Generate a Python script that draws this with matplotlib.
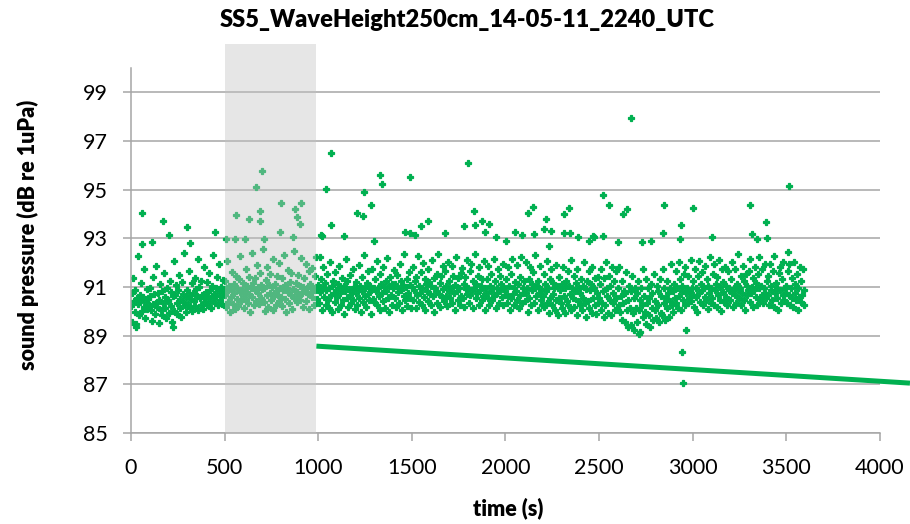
import matplotlib.pyplot as plt
import numpy as np
from matplotlib.patches import Rectangle

plt.rcParams["font.family"] = ["Lato", "DejaVu Sans"]

TITLE = "SS5_WaveHeight250cm_14-05-11_2240_UTC"
GREEN = "#00b050"
GRID = "#a6a6a6"
SAMPLE_STEP = 4  # seconds between plotted samples

# sound pressure (dB re 1uPa), one block per 500 s
seg_0000 = [
    90.21, 90.74, 89.58, 91.36, 90.42, 89.97, 90.88, 89.47, 90.55, 92.28, 90.31, 89.83, 90.66, 90.47, 91.18, 90.02, 90.59, 90.16, 91.72, 89.71, 90.38, 90.93, 90.11, 90.52, 90.27,
    90.63, 90.95, 90.04, 89.62, 90.29, 91.43, 90.71, 89.91, 90.36, 91.87, 90.19, 90.77, 89.52, 90.48, 91.14, 90.07, 90.83, 89.86, 90.33, 91.58, 90.57, 90.12, 89.74, 90.97, 90.41,
    90.46, 89.94, 91.26, 90.23, 90.79, 89.55, 90.61, 92.06, 90.01, 90.68, 91.07, 89.88, 90.34, 90.86, 91.49, 90.14, 90.51, 89.78, 91.21, 90.39, 90.72, 92.41, 90.24, 89.96, 90.58,
    90.87, 90.32, 90.69, 91.64, 90.13, 90.49, 91.17, 90.03, 90.76, 90.44, 91.38, 90.22, 90.91, 90.62, 92.17, 90.06, 90.98, 90.53, 90.28, 91.26, 90.67, 90.09, 91.81, 90.56, 90.37,
    90.81, 91.19, 90.26, 90.64, 91.57, 90.43, 90.89, 90.15, 91.04, 90.54, 92.33, 90.73, 90.35, 90.96, 90.61, 91.42, 90.27, 90.84, 91.93, 90.45, 91.02, 90.66, 90.31, 91.28, 90.92,
]
seg_0500 = [
    90.68, 91.24, 90.17, 92.08, 90.86, 90.39, 91.06, 89.97, 90.93, 90.58, 91.63, 90.29, 91.12, 90.77, 90.08, 91.47, 90.52, 90.94, 90.21, 91.33, 90.79, 92.27, 90.41, 90.88, 90.63,
    91.16, 90.12, 90.85, 91.74, 90.49, 91.03, 90.33, 91.41, 90.71, 89.96, 90.97, 92.38, 90.57, 91.18, 90.24, 90.87, 91.36, 90.44, 91.92, 90.76, 90.99, 90.31, 91.59, 90.53, 91.07,
    90.91, 92.55, 90.37, 90.96, 90.02, 91.27, 90.66, 91.83, 90.19, 91.08, 90.74, 91.52, 90.47, 90.98, 90.06, 92.14, 90.61, 91.13, 90.83, 90.28, 91.44, 90.69, 91.97, 90.42, 90.95,
    90.59, 91.35, 90.23, 90.89, 92.31, 90.51, 91.09, 89.98, 90.97, 90.78, 91.71, 90.34, 91.22, 90.67, 91.56, 90.11, 90.92, 90.56, 92.46, 90.84, 91.15, 90.38, 90.81, 91.48, 90.62,
    91.05, 90.48, 92.19, 90.77, 90.99, 90.18, 91.39, 90.86, 91.94, 90.43, 90.95, 90.72, 91.66, 90.09, 91.14, 90.81, 91.78, 90.57, 90.97, 90.26, 91.45, 90.88, 92.23, 90.49, 90.93,
]
seg_1000 = [
    91.08, 90.36, 92.24, 90.79, 91.31, 90.07, 90.94, 91.82, 90.58, 91.16, 90.27, 90.86, 91.54, 90.48, 90.97, 90.14, 92.02, 90.69, 91.05, 89.98, 91.26, 90.76, 91.63, 90.39, 90.88,
    90.57, 91.13, 90.09, 91.86, 90.74, 90.96, 90.25, 91.37, 90.46, 91.04, 89.87, 90.83, 92.15, 90.55, 91.24, 90.18, 90.93, 90.66, 91.51, 90.35, 90.87, 91.72, 90.47, 91.02, 90.08,
    90.77, 91.22, 90.28, 90.95, 91.91, 90.54, 91.06, 89.99, 91.43, 90.84, 90.37, 92.33, 90.64, 90.96, 90.16, 91.17, 90.73, 91.64, 90.45, 91.03, 89.91, 90.86, 91.76, 90.52, 90.97,
    90.38, 91.34, 90.85, 92.07, 90.26, 90.94, 90.63, 91.53, 90.06, 91.12, 90.75, 91.84, 90.44, 90.99, 90.13, 91.25, 90.82, 92.21, 90.56, 91.05, 89.96, 91.42, 90.68, 91.11, 90.24,
    90.97, 91.69, 90.54, 91.14, 90.17, 91.49, 90.78, 90.95, 90.33, 91.96, 90.86, 91.23, 90.04, 91.07, 90.65, 92.36, 90.46, 90.98, 90.22, 91.32, 90.74, 91.61, 90.53, 91.09, 90.15,
]
seg_1500 = [
    90.98, 90.46, 91.83, 90.87, 91.24, 90.15, 91.41, 90.66, 92.26, 90.37, 91.03, 90.76, 91.62, 90.24, 90.94, 91.97, 90.57, 91.33, 90.06, 91.12, 90.85, 91.74, 90.44, 91.21, 90.73,
    91.06, 90.27, 92.13, 90.64, 91.36, 89.98, 90.95, 90.82, 91.53, 90.35, 92.37, 90.71, 91.15, 90.16, 91.44, 90.58, 91.86, 90.92, 90.43, 91.67, 90.65, 91.04, 90.23, 92.04, 90.84,
    91.23, 90.55, 90.96, 91.88, 90.36, 91.46, 90.74, 91.08, 90.04, 92.22, 90.83, 91.35, 90.47, 90.97, 90.26, 91.56, 90.63, 91.77, 90.54, 91.14, 90.17, 91.43, 90.93, 92.11, 90.72,
    90.94, 90.34, 91.64, 90.66, 91.95, 90.86, 91.24, 90.13, 90.97, 92.35, 90.53, 91.13, 90.75, 91.47, 90.25, 91.84, 90.87, 91.05, 90.45, 91.32, 90.64, 92.06, 90.07, 90.96, 90.77,
    91.34, 90.56, 91.86, 90.27, 91.04, 90.83, 91.55, 90.46, 90.94, 92.16, 90.65, 91.25, 90.14, 90.95, 90.76, 91.73, 90.35, 91.44, 90.86, 91.13, 90.57, 91.93, 90.24, 90.97, 90.66,
]
seg_2000 = [
    90.84, 91.33, 90.36, 91.82, 90.64, 91.04, 90.05, 91.53, 90.55, 92.14, 90.73, 90.96, 90.24, 91.22, 90.85, 91.91, 90.46, 91.13, 90.15, 91.43, 90.66, 92.25, 90.34, 90.94, 90.75,
    91.23, 90.44, 92.02, 90.74, 90.95, 89.96, 91.34, 90.53, 91.84, 90.25, 91.14, 90.86, 91.63, 90.35, 90.97, 92.33, 90.65, 91.05, 90.06, 91.24, 90.76, 91.86, 90.45, 90.93, 90.24,
    90.63, 91.52, 90.16, 91.13, 90.84, 92.05, 90.35, 90.96, 89.94, 91.33, 90.54, 91.74, 90.26, 91.15, 90.73, 90.94, 90.04, 91.92, 90.45, 91.03, 89.86, 91.43, 90.55, 90.87, 90.36,
    91.14, 90.15, 91.83, 90.64, 90.95, 89.93, 91.24, 90.44, 91.65, 90.26, 91.04, 90.73, 92.13, 90.05, 90.96, 90.55, 91.45, 90.16, 90.84, 91.15, 89.84, 91.73, 90.43, 90.94, 90.25,
    90.74, 91.34, 90.05, 91.04, 90.56, 92.03, 90.35, 90.93, 89.76, 91.25, 90.44, 91.64, 90.15, 90.86, 91.13, 89.95, 91.84, 90.55, 90.96, 90.24, 91.35, 89.87, 90.75, 91.43, 90.34,
]
seg_2500 = [
    90.55, 91.14, 90.06, 91.73, 90.35, 90.84, 89.76, 91.35, 90.24, 92.03, 90.65, 90.94, 89.95, 91.44, 90.45, 91.04, 89.86, 91.83, 90.34, 90.75, 91.24, 90.05, 91.64, 90.54, 90.15,
    90.94, 90.24, 91.84, 89.96, 90.64, 89.66, 91.24, 90.35, 90.85, 89.55, 90.75, 91.63, 90.04, 90.45, 89.35, 91.03, 90.14, 90.84, 89.45, 91.44, 89.94, 90.55, 89.24, 90.94, 90.15,
    90.74, 89.55, 91.24, 90.04, 90.45, 89.15, 90.94, 90.24, 91.73, 89.75, 90.65, 89.96, 91.34, 89.46, 90.35, 90.95, 89.85, 90.55, 89.36, 91.14, 90.14, 90.75, 89.65, 91.53, 90.05,
    90.44, 89.74, 91.04, 90.24, 90.85, 89.55, 91.34, 89.95, 90.65, 89.84, 91.74, 90.35, 90.94, 89.64, 90.55, 91.24, 90.15, 90.74, 89.76, 90.95, 90.44, 91.93, 90.25, 90.84, 89.96,
    91.14, 90.55, 91.64, 90.35, 90.95, 90.14, 92.04, 90.65, 91.34, 90.04, 90.84, 91.04, 90.45, 91.53, 90.24, 91.84, 90.75, 90.94, 90.34, 91.44, 90.55, 90.85, 92.13, 90.44, 90.94,
]
seg_3000 = [
    90.66, 91.23, 90.17, 91.72, 90.57, 90.95, 89.98, 91.44, 90.76, 92.06, 90.38, 91.12, 90.87, 91.63, 90.27, 90.96, 90.58, 91.85, 90.46, 91.32, 90.08, 91.03, 90.77, 92.22, 90.36,
    90.97, 90.56, 91.54, 90.28, 91.93, 90.86, 91.14, 90.18, 91.43, 90.67, 92.12, 90.47, 90.98, 90.02, 91.76, 90.78, 91.22, 90.37, 91.84, 90.57, 91.06, 90.26, 91.65, 90.88, 90.94,
    90.47, 91.33, 90.76, 92.03, 90.16, 90.97, 90.66, 91.73, 90.36, 91.13, 90.86, 92.34, 90.56, 90.95, 90.27, 91.46, 90.77, 91.87, 90.46, 91.24, 90.07, 91.55, 90.67, 91.04, 90.87,
    91.64, 90.37, 92.14, 90.76, 90.98, 90.17, 91.35, 90.86, 91.83, 90.57, 91.16, 90.26, 91.54, 90.96, 92.25, 90.46, 91.06, 90.66, 91.74, 90.36, 90.97, 90.77, 91.95, 90.56, 91.25,
    90.67, 91.45, 90.26, 91.94, 90.87, 91.05, 90.46, 91.66, 90.16, 92.27, 90.76, 91.15, 90.56, 90.96, 90.07, 91.56, 90.86, 91.84, 90.36, 91.34, 90.66, 92.04, 90.46, 90.97, 90.76,
]
seg_3500 = [
    91.06, 90.36, 91.64, 90.66, 91.95, 90.27, 90.96, 90.56, 91.35, 90.16, 92.04, 90.76, 91.14, 90.46, 91.55, 90.07, 90.95, 90.57, 91.84, 90.37, 91.24, 90.67, 91.73, 90.26, 90.86,
]
segment_starts = [0, 500, 1000, 1500, 2000, 2500, 3000, 3500]
segments = [seg_0000, seg_0500, seg_1000, seg_1500, seg_2000, seg_2500, seg_3000, seg_3500]

# isolated points away from the main band
outlier_t = [60, 169, 205, 301, 450, 114, 57, 313, 25, 223,
             563, 628, 669, 698, 689, 687, 799, 876, 888, 904, 906, 794, 507, 557, 607, 710, 863,
             1016, 1068, 1043, 1066, 1020, 1139, 1205, 1244, 1241, 1283, 1331, 1340, 1298,
             1465, 1490, 1492, 1517, 1549, 1586, 1679, 1778, 1801, 1832, 1835, 1873, 1892, 1912, 1949,
             2003, 2051, 2088, 2119, 2149, 2154, 2207, 2216, 2241, 2234, 2312, 2339, 2314, 2346, 2389, 2467,
             2672, 2520, 2551, 2630, 2651, 2847, 3002, 2936, 2840, 3306, 3391, 3514, 3315, 3342, 3399,
             3101, 2523, 2444, 2471, 2932, 2601, 2775, 2731, 3511, 2964, 2941, 2948, 2711]
outlier_db = [94.04, 93.70, 93.14, 93.46, 93.28, 92.85, 92.76, 92.82, 89.36, 89.36,
              93.94, 93.81, 95.10, 95.75, 94.14, 93.73, 94.44, 94.20, 93.87, 93.60, 94.45, 93.24, 92.96, 92.96, 92.96, 92.96, 93.06,
              93.13, 96.50, 95.04, 93.54, 93.11, 93.10, 94.06, 94.91, 93.92, 94.39, 95.59, 95.25, 92.91,
              93.28, 93.21, 95.51, 93.14, 93.51, 93.72, 93.22, 93.51, 96.08, 94.13, 93.55, 93.70, 93.28, 93.57, 93.07,
              92.91, 93.28, 93.14, 94.03, 94.28, 93.17, 93.40, 93.80, 93.29, 92.70, 93.98, 94.24, 93.20, 93.20, 93.05, 93.10,
              97.94, 94.77, 94.39, 93.98, 94.22, 94.35, 94.24, 93.54, 93.22, 94.35, 93.68, 95.17, 93.17, 92.99, 93.00,
              93.06, 93.09, 92.88, 93.06, 92.98, 92.83, 92.88, 92.83, 92.43, 89.23, 88.34, 87.07, 89.06]

trend_t = [990, 4160]
trend_db = [88.57, 87.05]

window_t = [500, 990]
window_db = [85, 101]

t = np.concatenate([s + SAMPLE_STEP * np.arange(len(v)) for s, v in zip(segment_starts, segments)])
db = np.concatenate([np.asarray(v, dtype=float) for v in segments])
t = np.concatenate([t, outlier_t])
db = np.concatenate([db, outlier_db])

fig = plt.figure(figsize=(9.1, 5.24), dpi=100)
ax = fig.add_axes([131 / 910, 1 - 433 / 524, 749 / 910, 365 / 524])

# chunky plus markers, like the spreadsheet's default scatter symbol
ax.plot(t, db, linestyle="none", marker="P", markersize=4.6,
        color=GREEN, markeredgecolor=GREEN, markeredgewidth=0.9, zorder=2)
ax.plot(trend_t, trend_db, color=GREEN, linewidth=3.6,
        solid_capstyle="butt", clip_on=False, zorder=2)
ax.add_patch(Rectangle((window_t[0], window_db[0]), window_t[1] - window_t[0],
                       window_db[1] - window_db[0], facecolor="#c3c3c3", alpha=0.41,
                       linewidth=0, clip_on=False, zorder=3))

ax.set_xlim(0, 4000)
ax.set_ylim(85, 100)
ax.set_xticks(np.arange(0, 4001, 500))
ax.set_yticks(np.arange(85, 100, 2))
ax.grid(axis="y", color=GRID, linewidth=1.1)
ax.set_axisbelow(True)
for side in ("top", "right"):
    ax.spines[side].set_visible(False)
for side in ("left", "bottom"):
    ax.spines[side].set_color(GRID)
    ax.spines[side].set_linewidth(1.1)
ax.tick_params(direction="out", length=6, width=1.1, color=GRID, labelsize=15.5)
ax.tick_params(axis="x", pad=12)
ax.tick_params(axis="y", pad=11)

fig.text(467 / 910, 1 - 20 / 524, TITLE, ha="center", va="center",
         fontsize=17, fontweight="heavy")
fig.text(28 / 910, 1 - 235 / 524, "sound pressure (dB re 1uPa)", rotation=90,
         ha="center", va="center", fontsize=15.5, fontweight="heavy")
fig.text(508 / 910, 1 - 508 / 524, "time (s)", ha="center", va="center",
         fontsize=15.5, fontweight="heavy")

fig.savefig("out.png", dpi=100)
